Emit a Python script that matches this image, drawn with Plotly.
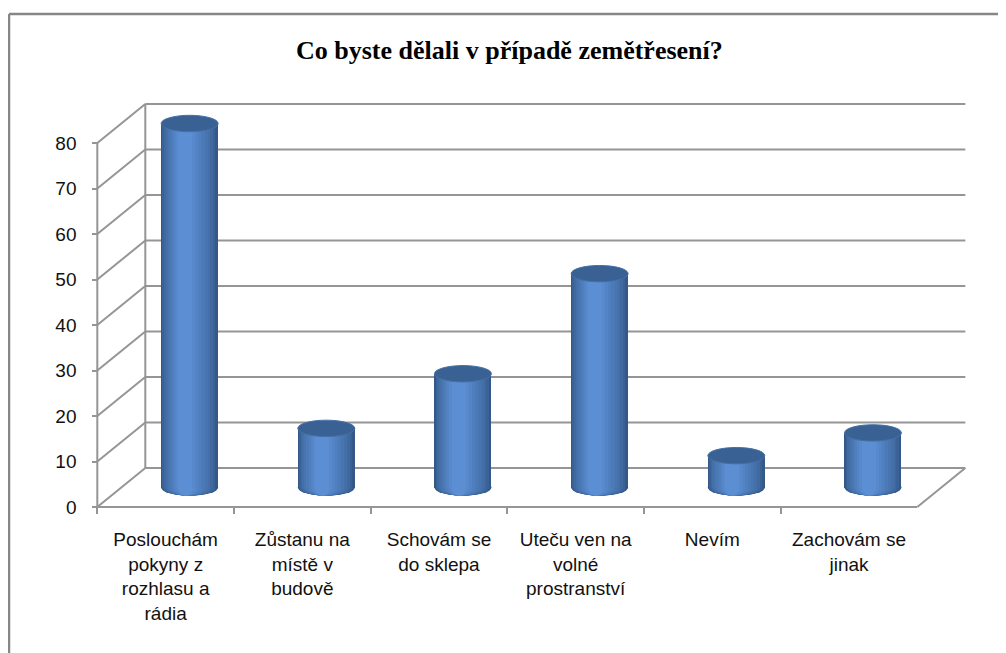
import plotly.graph_objects as go

# ---------------- data ----------------
categories = [
    "Poslouchám<br>pokyny z<br>rozhlasu a<br>rádia",
    "Zůstanu na<br>místě v<br>budově",
    "Schovám se<br>do sklepa",
    "Uteču ven na<br>volné<br>prostranství",
    "Nevím",
    "Zachovám se<br>jinak",
]
values = [80, 13, 25, 47, 7, 12]
y_ticks = [0, 10, 20, 30, 40, 50, 60, 70, 80]
title_text = "Co byste dělali v případě zemětřesení?"

# ---------------- layout geometry (pixels of the 1006x653 page) ----------------
PAGE_OFF = 8                       # default body margin of the html page
FIG_W, FIG_H = 1006 - PAGE_OFF, 653 - PAGE_OFF
X_RANGE = [-0.8, 5.8]
X_DOM_PX = [80.3, 982.3]
Y_RANGE = [-8, 92]
Y_DOM_PX = [523.9, 68.9]          # bottom, top
DX = 0.1756                        # half depth, in category units
DY = 4.286                         # half depth, in value units
BAR_W = 0.417
E_HALF = 1.8                       # half height of the cylinder ellipses (value units)

def fx(p):
    return (p - PAGE_OFF) / FIG_W

def fy(p):
    return 1 - (p - PAGE_OFF) / FIG_H

GRID = "#959595"
n = len(categories)

# gradient layers for the cylinders: (width fraction, shift fraction, colour)
DARK = (0x34, 0x59, 0x89)
LIGHT = (0x5b, 0x8e, 0xd3)
WIDTHS = [1.00, 0.93, 0.86, 0.78, 0.70, 0.61, 0.52, 0.43, 0.34, 0.25]
layers = []
for k, wf in enumerate(WIDTHS):
    t = k / (len(WIDTHS) - 1)
    t = t ** 0.8
    col = "#%02x%02x%02x" % tuple(round(d + (l - d) * t) for d, l in zip(DARK, LIGHT))
    layers.append((wf, -0.07 * (k / (len(WIDTHS) - 1)), col))

fig = go.Figure()

for wf, sh, col in layers:
    w = BAR_W * wf
    fig.add_trace(go.Bar(
        x=categories, y=values, xaxis="x", yaxis="y",
        width=[w] * n, offset=[-w / 2 + sh * BAR_W] * n,
        marker=dict(color=col, line=dict(width=0)),
        hoverinfo="skip", showlegend=False,
    ))

# invisible trace carrying the front category axis
fig.add_trace(go.Scatter(
    x=categories, y=values, xaxis="x2", yaxis="y2", mode="markers",
    marker=dict(opacity=0), hoverinfo="skip", showlegend=False,
))

shapes = []
# back wall grid lines + diagonal side-wall lines
for v in y_ticks:
    shapes.append(dict(type="line", xref="x", yref="y", layer="below",
                       x0=-0.5 + DX, x1=n - 0.5 + DX, y0=v + DY, y1=v + DY,
                       line=dict(color=GRID, width=2)))
    shapes.append(dict(type="line", xref="x", yref="y", layer="below",
                       x0=-0.5 - DX, x1=-0.5 + DX, y0=v - DY, y1=v + DY,
                       line=dict(color=GRID, width=2)))
# back wall left edge
shapes.append(dict(type="line", xref="x", yref="y", layer="below",
                   x0=-0.5 + DX, x1=-0.5 + DX, y0=DY, y1=y_ticks[-1] + DY,
                   line=dict(color=GRID, width=2)))
# front value axis line
shapes.append(dict(type="line", xref="x", yref="y", layer="below",
                   x0=-0.5 - DX, x1=-0.5 - DX, y0=-DY, y1=y_ticks[-1] - DY,
                   line=dict(color=GRID, width=2)))
# floor right edge
shapes.append(dict(type="line", xref="x", yref="y", layer="below",
                   x0=n - 0.5 - DX, x1=n - 0.5 + DX, y0=-DY, y1=DY,
                   line=dict(color=GRID, width=2)))

# cylinder bottoms and tops
for i, v in enumerate(values):
    for wf, sh, col in layers:
        w = BAR_W * wf
        c = i + sh * BAR_W
        shapes.append(dict(type="circle", xref="x", yref="y", layer="between",
                           x0=c - w / 2, x1=c + w / 2, y0=-E_HALF, y1=E_HALF,
                           fillcolor=col, line=dict(width=0)))
    shapes.append(dict(type="circle", xref="x", yref="y", layer="above",
                       x0=i - BAR_W / 2, x1=i + BAR_W / 2,
                       y0=v - E_HALF, y1=v + E_HALF,
                       fillcolor="#3a6194", line=dict(color="#4570a6", width=1)))

# outer frame of the chart
shapes.append(dict(type="line", xref="paper", yref="paper",
                   x0=fx(9), x1=1, y0=fy(14), y1=fy(14),
                   line=dict(color="#878787", width=2.5)))
shapes.append(dict(type="line", xref="paper", yref="paper",
                   x0=fx(9), x1=fx(9), y0=fy(14), y1=0,
                   line=dict(color="#878787", width=2.5)))

tick_font = dict(family="Liberation Sans, Arial, sans-serif", size=19, color="#111111")

fig.update_layout(
    width=FIG_W, height=FIG_H,
    margin=dict(l=0, r=0, t=0, b=0, autoexpand=False),
    paper_bgcolor="white", plot_bgcolor="rgba(0,0,0,0)",
    barmode="overlay", bargap=0,
    showlegend=False,
    shapes=shapes,
    xaxis=dict(type="category", range=X_RANGE,
               domain=[fx(X_DOM_PX[0]), fx(X_DOM_PX[1])],
               visible=False, fixedrange=True),
    yaxis=dict(range=Y_RANGE, domain=[fy(Y_DOM_PX[0]), fy(Y_DOM_PX[1])],
               visible=False, fixedrange=True),
    xaxis2=dict(type="category", range=[-0.5, n - 0.5],
                domain=[fx(X_DOM_PX[0] + (0.3 - DX) * 136.67),
                        fx(X_DOM_PX[0] + (n + 0.3 - DX) * 136.67)],
                anchor="free", position=fy(507),
                showline=True, linecolor=GRID, linewidth=2,
                ticks="outside", tickson="boundaries", ticklen=6,
                tickcolor=GRID, tickwidth=2, showgrid=False,
                tickfont=tick_font, ticklabelstandoff=15, automargin=False),
    yaxis2=dict(range=[Y_RANGE[0] + DY, Y_RANGE[1] + DY],
                domain=[fy(Y_DOM_PX[0]), fy(Y_DOM_PX[1])],
                anchor="free", position=fx(97.3),
                tickvals=y_ticks, ticks="outside", ticklen=5,
                tickcolor=GRID, tickwidth=2, showline=False, showgrid=False,
                zeroline=False, tickfont=tick_font, ticklabelstandoff=12,
                automargin=False),
    annotations=[dict(
        text="<b>" + title_text + "</b>", xref="paper", yref="paper",
        x=fx(510), y=fy(51), xanchor="center", yanchor="middle",
        showarrow=False,
        font=dict(family="Liberation Serif, Times New Roman, serif", size=26, color="#000000"),
    )],
)

fig.write_html("out.html")
